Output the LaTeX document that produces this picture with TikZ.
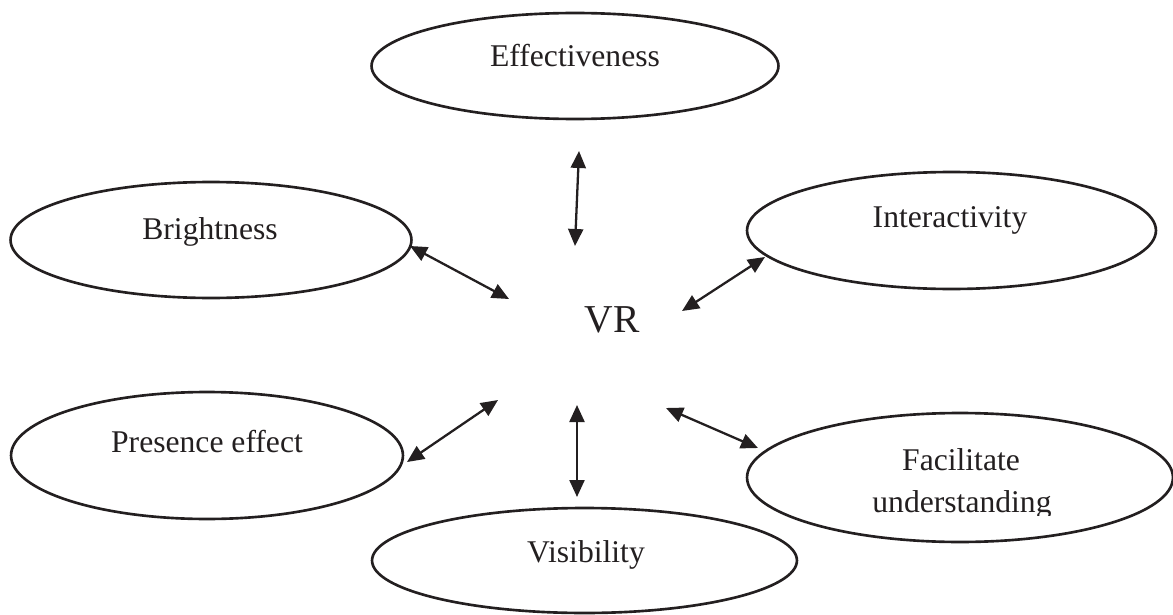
\documentclass[tikz,border=0pt]{standalone}
\usepackage{fontspec}
\setmainfont{Liberation Serif}
\usetikzlibrary{shapes.geometric,arrows.meta}
\definecolor{ink}{RGB}{35,31,32}

\begin{document}
\begin{tikzpicture}[x=0.02cm, y=-0.02cm,
    bubble/.style={draw=ink, line width=1.5pt, ellipse, inner sep=0pt},
    lbl/.style={anchor=base, inner sep=0pt, text=ink, font=\fontsize{18}{22}\selectfont},
    link/.style={draw=ink, line width=1.3pt, {Triangle[length=0.34cm, width=0.3cm]}-{Triangle[length=0.34cm, width=0.3cm]}}]
    \useasboundingbox (0,0) rectangle (1173,615);

    % Centre
    \node[lbl, font=\fontsize{22.5}{27}\selectfont] (vr) at (612,332) {VR};

    % Ellipses
    \node[bubble, minimum width=8.14cm, minimum height=2.12cm] (eff) at (575,66) {};
    \node[lbl] (effTxt) at (575,67) {Effectiveness};

    \node[bubble, minimum width=8.02cm, minimum height=2.32cm] (bri) at (211,240) {};
    \node[lbl] (briTxt) at (210,239) {Brightness};

    \node[bubble, minimum width=8.18cm, minimum height=2.34cm] (int) at (951.5,230.5) {};
    \node[lbl] (intTxt) at (950,227) {Interactivity};

    \node[bubble, minimum width=7.84cm, minimum height=2.54cm] (pre) at (207,455.5) {};
    \node[lbl] (preTxt) at (207,452) {Presence effect};

    \node[bubble, minimum width=8.52cm, minimum height=2.58cm] (fac) at (960,477.5) {};
    \node[lbl] (facTxt) at (961,470) {Facilitate};
    \begin{scope}
        \clip (760,480) rectangle (1160,515);
        \node[lbl] (facTxtB) at (962,512) {understanding};
    \end{scope}

    \node[bubble, minimum width=8.5cm, minimum height=2.1cm] (vis) at (584.5,560.5) {};
    \node[lbl] (visTxt) at (586,562) {Visibility};

    % Arrow ends
    \coordinate (effEnd) at (579,151);
    \coordinate (vrN) at (575,246);
    \coordinate (briEnd) at (410,246);
    \coordinate (vrW) at (509,299);
    \coordinate (intEnd) at (765,257);
    \coordinate (vrE) at (682,311);
    \coordinate (preEnd) at (407,462);
    \coordinate (vrSW) at (498,400);
    \coordinate (visEnd) at (577,497);
    \coordinate (vrS) at (577,405);
    \coordinate (facEnd) at (758,448);
    \coordinate (vrSE) at (666,408);

    % Arrows
    \draw[link] (effEnd) -- (vrN);
    \draw[link] (briEnd) -- (vrW);
    \draw[link] (intEnd) -- (vrE);
    \draw[link] (vrSW) -- (preEnd);
    \draw[link] (vrS) -- (visEnd);
    \draw[link] (vrSE) -- (facEnd);
\end{tikzpicture}
\end{document}
